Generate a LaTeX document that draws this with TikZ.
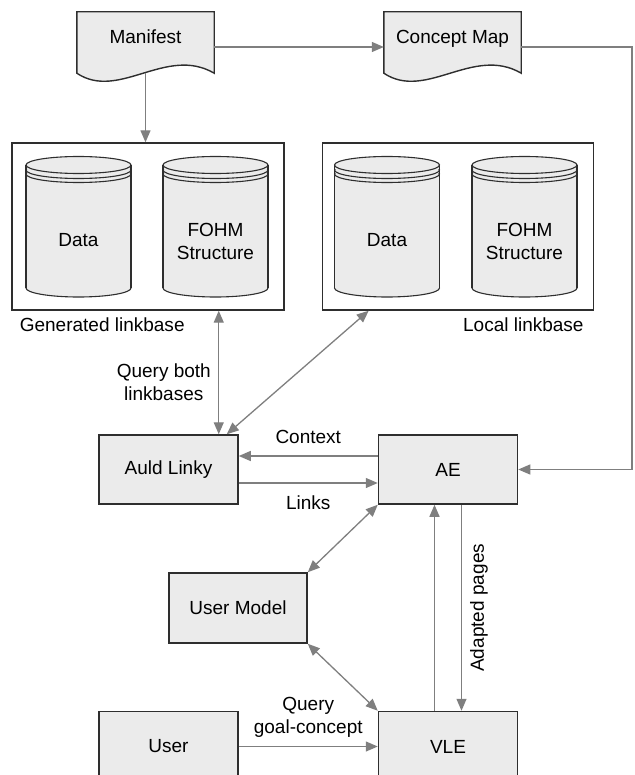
\documentclass[tikz,border=0pt]{standalone}
\usepackage{fontspec}
\setmainfont{Liberation Sans}
\usepackage{xcolor}
\usepackage{tikz}
\usetikzlibrary{arrows.meta,positioning,backgrounds}

\definecolor{boxfill}{HTML}{EBEBEB}
\definecolor{boxline}{HTML}{2E2E2E}
\definecolor{flowgray}{HTML}{7F7F7F}

\begin{document}
\begin{tikzpicture}
		[
			x=1pt,y=-1pt,
			every node/.style={
					font=\fontsize{19}{23}\selectfont},
			process/.style={draw=boxline,fill=boxfill,line width=1.5pt,
					minimum width=139pt,minimum height=69pt,inner sep=0pt},
			docnode/.style={minimum width=137pt,minimum height=70pt,inner sep=0pt},
			linkbase/.style={draw=boxline,line width=1.4pt,
					minimum width=272pt,minimum height=167pt,inner sep=0pt},
			dbline/.style={draw=boxline,line width=1.1pt},
			flow/.style={draw=flowgray,line width=1.3pt,
					-{Triangle[length=12pt,width=10pt]}},
			twoway/.style={flow,
					{Triangle[length=12pt,width=10pt]}-{Triangle[length=12pt,width=10pt]}}]
		\useasboundingbox (0,0) rectangle (634,775);
		\clip (0,0) rectangle (634,775);

		% documents
		\node[docnode] (manifest) at (145.5,47) {\raisebox{20pt}{Manifest}};
		\node[docnode] (concept) at (452.5,47) {\raisebox{20pt}{Concept Map}};
		\begin{scope}[on background layer]
			\foreach \doc in {manifest,concept}
				\filldraw[dbline,fill=boxfill,line width=1.4pt]
				(\doc.north west) -- (\doc.north east) -- ([yshift=9pt]\doc.south east)
				.. controls +(-48,-28) and +(42,28) .. ([yshift=9pt]\doc.south west) -- cycle;
		\end{scope}

		% linkbases
		\node[linkbase] (genlb) at (148,226.5) {};
		\node[linkbase,minimum width=271pt,right=37pt of genlb] (loclb) {};
		\foreach \cx in {78.5,215.5,387,524.5}
			{
				\filldraw[dbline,fill=boxfill] (\cx,288) ellipse [x radius=52.5, y radius=9];
				\fill[boxfill] (\cx-52.5,165) rectangle (\cx+52.5,288);
				\draw[dbline] (\cx-52.5,165) -- (\cx-52.5,288) (\cx+52.5,165) -- (\cx+52.5,288);
				\filldraw[dbline,fill=boxfill] (\cx,165) ellipse [x radius=52.5, y radius=8.5];
				\foreach \ring in {5,9}
					{
						\begin{scope}
							\clip (\cx-55,165+\ring) rectangle (\cx+55,190);
							\draw[dbline] (\cx,165+\ring) ellipse [x radius=52.5, y radius=8.5];
						\end{scope}
					}
			}
		\node (gdata) at (78.5,240) {Data};
		\node[align=center] (gfohm) at (215.5,241.5) {FOHM\\Structure};
		\node (ldata) at (387,240) {Data};
		\node[align=center] (lfohm) at (524.5,241.5) {FOHM\\Structure};
		\node[anchor=base west] (genlabel) at ([shift={(5pt,-21pt)}]genlb.south west) {Generated linkbase};
		\node[anchor=base east] (loclabel) at ([shift={(-7pt,-21pt)}]loclb.south east) {Local linkbase};

		% processes
		\node[process] (auld) at (168.5,469.5) {Auld Linky};
		\node[process,right=139pt of auld] (ae) {AE};
		\node[process,minimum width=138pt,minimum height=70pt] (usermodel) at (238,608) {User Model};
		\node[process,minimum height=70pt,below=206pt of ae] (vle) {VLE};
		\node[process,minimum height=70pt,left=139pt of vle] (user) {User};

		% connectors
		\draw[flow] (manifest.east) -- (concept.west);
		\draw[flow] ([yshift=9pt]manifest.south) -- (manifest.south |- genlb.north);
		\coordinate (cmcorner) at (632,47);
		\draw[flow] (concept.east) -- (cmcorner) |- (ae.east);
		\coordinate (qtop) at ([xshift=-20pt]auld.north east);
		\draw[twoway] (qtop) -- (qtop |- genlb.south)
		node[pos=0.42,left=4pt,align=center] {Query both\\linkbases};
		\draw[twoway] ([xshift=-12pt]auld.north east) -- ([xshift=47pt]loclb.south west);
		\draw[flow] ([yshift=13.5pt]ae.west) -- ([yshift=13.5pt]auld.east)
		node[midway,above=8pt] {Context};
		\draw[flow] ([yshift=-13.5pt]auld.east) -- ([yshift=-13.5pt]ae.west)
		node[midway,below=9pt] {Links};
		\draw[twoway] (ae.south west) -- (usermodel.north east);
		\draw[twoway] (usermodel.south east) -- (vle.north west);
		\draw[flow] ([xshift=-13.5pt]vle.north) -- ([xshift=-13.5pt]ae.south);
		\draw[flow] ([xshift=13.5pt]ae.south) -- ([xshift=13.5pt]vle.north)
		node[midway,anchor=north,rotate=90,inner sep=8pt] {Adapted pages};
		\draw[flow] (user.east) -- (vle.west)
		node[midway,above=5pt,align=center] {Query\\goal-concept};
	\end{tikzpicture}
\end{document}
